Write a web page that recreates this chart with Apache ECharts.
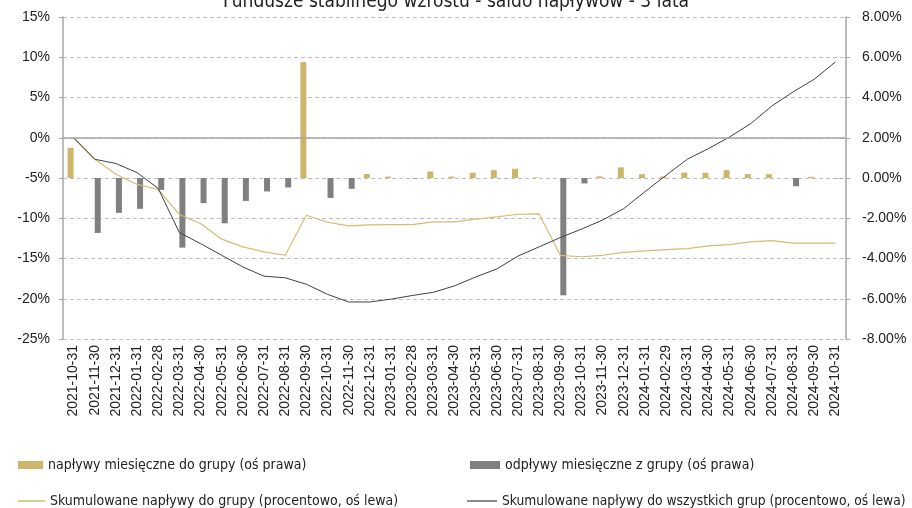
<!DOCTYPE html>
<html><head><meta charset="utf-8">
<script src="https://cdn.jsdelivr.net/npm/echarts@6/dist/echarts.min.js"></script>
<style>html,body{margin:0;padding:0;background:#fff}#c{width:912px;height:508px}</style>
</head><body><div id="c"></div>
<script>
const categories = ["2021-10-31","2021-11-30","2021-12-31","2022-01-31","2022-02-28","2022-03-31","2022-04-30","2022-05-31","2022-06-30","2022-07-31","2022-08-31","2022-09-30","2022-10-31","2022-11-30","2022-12-31","2023-01-31","2023-02-28","2023-03-31","2023-04-30","2023-05-31","2023-06-30","2023-07-31","2023-08-31","2023-09-30","2023-10-31","2023-11-30","2023-12-31","2024-01-31","2024-02-29","2024-03-31","2024-04-30","2024-05-31","2024-06-30","2024-07-31","2024-08-31","2024-09-30","2024-10-31"];
const inflowsMonthly = [1.50,null,null,null,null,null,null,null,null,null,null,5.76,null,null,0.20,0.07,null,0.32,0.07,0.26,0.39,0.46,0.03,null,null,0.08,0.53,0.19,0.07,0.27,0.26,0.39,0.19,0.19,null,0.06,null];
const outflowsMonthly = [null,-2.73,-1.73,-1.53,-0.59,-3.46,-1.25,-2.25,-1.14,-0.67,-0.47,null,-0.99,-0.54,null,null,-0.02,null,null,null,null,null,null,-5.83,-0.27,null,null,null,null,null,null,null,null,null,-0.41,null,-0.02];
const cumGroup = [0,-2.67,-4.53,-5.8,-6.43,-9.54,-10.66,-12.6,-13.56,-14.18,-14.6,-9.63,-10.5,-10.95,-10.83,-10.79,-10.79,-10.46,-10.46,-10.12,-9.83,-9.5,-9.46,-14.6,-14.78,-14.6,-14.24,-14.06,-13.9,-13.77,-13.44,-13.27,-12.94,-12.77,-13.1,-13.1,-13.1];
const cumAll = [0,-2.67,-3.2,-4.33,-6.3,-11.78,-13.15,-14.6,-16.05,-17.2,-17.4,-18.2,-19.45,-20.4,-20.4,-20.05,-19.6,-19.2,-18.4,-17.3,-16.3,-14.7,-13.55,-12.4,-11.35,-10.22,-8.8,-6.7,-4.66,-2.67,-1.35,0.1,1.76,3.95,5.7,7.27,9.42];
const leftTicks = {min:-25,max:15,interval:5};
const rightTicks = {min:-8,max:8,interval:2};
const titleText = "Fundusze stabilnego wzrostu - saldo napływów - 3 lata";
const names = ["napływy miesięczne do grupy (oś prawa)","odpływy miesięczne z grupy (oś prawa)","Skumulowane napływy do grupy (procentowo, oś lewa)","Skumulowane napływy do wszystkich grup (procentowo, oś lewa)"];

const GOLD='#CDB56C', GRAY='#808080', GLINE='#D4BC74', DLINE='#404040';
const COND = '"DejaVu Sans Condensed", "Liberation Sans", sans-serif';
const legFont = {fontFamily:COND, fontSize:14, color:'#222'};
const chart = echarts.init(document.getElementById('c'), null, {renderer:'canvas'});
chart.setOption({
  animation:false,
  title:{text:titleText,left:'center',top:-12,textStyle:{fontFamily:COND,fontSize:19,fontWeight:'normal',color:'#222'}},
  grid:{left:63,right:66,top:17,bottom:169,containLabel:false},
  legend:[
    {data:[{name:names[0],icon:'rect'}],left:18,top:458,padding:0,itemWidth:25,itemHeight:8,textStyle:legFont},
    {data:[{name:names[1],icon:'rect'}],left:470,top:458,padding:0,itemWidth:30,itemHeight:8,textStyle:legFont},
    {data:[{name:names[2],icon:'rect',itemStyle:{color:GLINE}}],left:18,top:494,padding:0,itemWidth:27,itemHeight:1.5,textStyle:legFont},
    {data:[{name:names[3],icon:'rect',itemStyle:{color:DLINE}}],left:467,top:494,padding:0,itemWidth:30,itemHeight:1.2,textStyle:Object.assign({},legFont,{fontSize:13.7})}
  ],
  xAxis:{type:'category',data:categories,
    axisLine:{show:false},axisTick:{show:false},
    axisLabel:{interval:0,rotate:90,margin:6,fontFamily:'Liberation Sans',fontSize:14,color:'#222'}},
  yAxis:[
    {type:'value',min:leftTicks.min,max:leftTicks.max,interval:leftTicks.interval,
     axisLine:{show:true,lineStyle:{color:'#a6a6a6',width:1.5}},
     axisTick:{show:true,length:4,lineStyle:{color:'#a6a6a6'}},
     axisLabel:{margin:13,fontFamily:'Liberation Sans',fontSize:14,color:'#222',formatter:v=>v+'%'},
     splitLine:{show:true,lineStyle:{color:'#bfbfbf',type:[4,3],width:1}}},
    {type:'value',min:rightTicks.min,max:rightTicks.max,interval:rightTicks.interval,position:'right',
     axisLine:{show:true,lineStyle:{color:'#a6a6a6',width:1.5}},
     axisTick:{show:true,length:4,lineStyle:{color:'#a6a6a6'}},
     axisLabel:{margin:16,fontFamily:'Liberation Sans',fontSize:14,color:'#222',formatter:v=>v.toFixed(2)+'%'},
     splitLine:{show:false}}
  ],
  series:[
    {name:names[0],type:'bar',yAxisIndex:1,data:inflowsMonthly,barWidth:6,barGap:'0%',itemStyle:{color:GOLD},
     markLine:{silent:true,symbol:'none',label:{show:false},lineStyle:{color:'#a6a6a6',width:1.5,type:'solid'},data:[{yAxis:2}]}},
    {name:names[1],type:'bar',yAxisIndex:1,data:outflowsMonthly,barWidth:6,barGap:'0%',itemStyle:{color:GRAY}},
    {name:names[2],type:'line',yAxisIndex:0,data:cumGroup,symbol:'none',lineStyle:{color:GLINE,width:1.2},itemStyle:{color:GLINE},z:3},
    {name:names[3],type:'line',yAxisIndex:0,data:cumAll,symbol:'none',lineStyle:{color:DLINE,width:1},itemStyle:{color:DLINE},z:4}
  ]
});
</script></body></html>
